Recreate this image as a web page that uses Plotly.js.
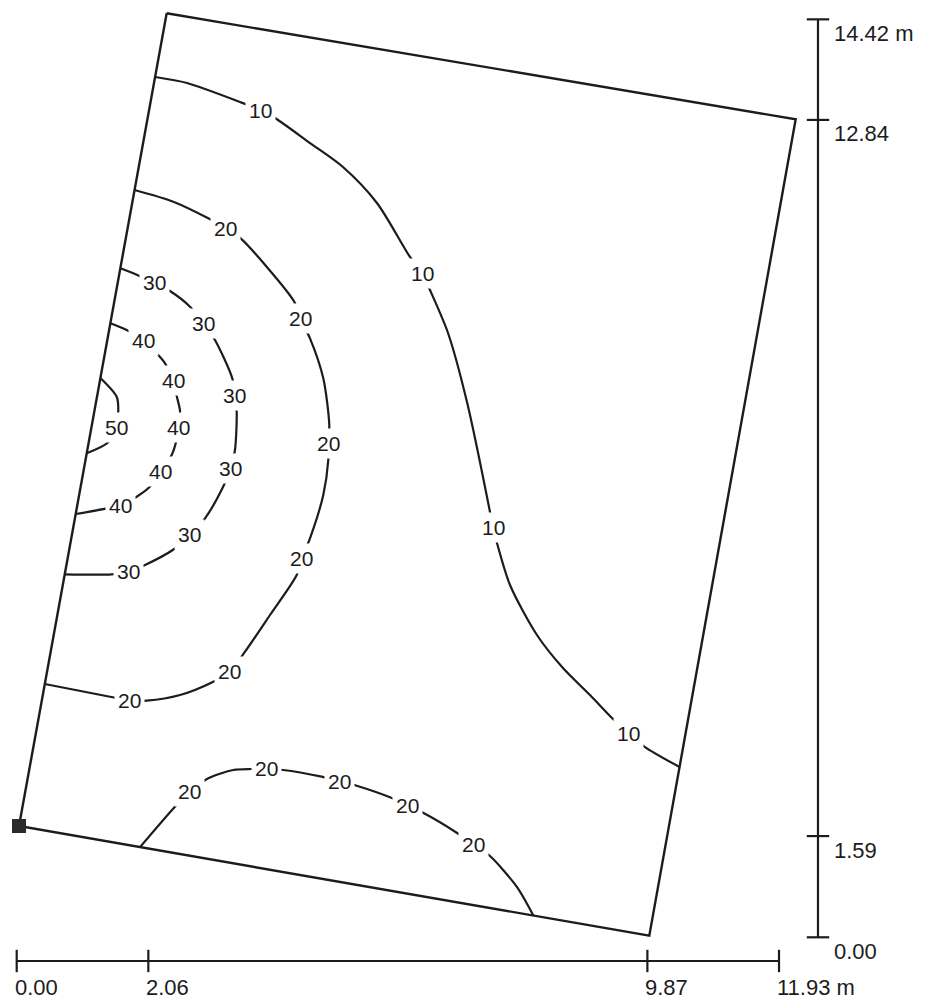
<!DOCTYPE html>
<html>
<head>
<meta charset="utf-8">
<script src="https://cdn.plot.ly/plotly-3.0.1.min.js"></script>
<style>html,body{margin:0;padding:0;background:#fff;}#chart{width:927px;height:1004px;}</style>
</head>
<body>
<div id="chart"></div>
<script>
// Room outline (metres, as drawn)
const roomX = [2.347, 12.191, 9.900, 0.036, 2.347];
const roomY = [14.515, 12.850, 0.025, 1.748, 14.515];

// Isolines (metres)
const c10x = [2.166, 2.665, 3.495, 3.808, 4.042, 4.590, 5.106, 5.638, 6.155, 6.343, 6.468, 6.750, 7.047, 7.407, 7.454, 7.516, 7.720, 8.142, 8.549, 8.972, 9.316, 9.567, 9.833, 10.374];
const c10y = [13.514, 13.420, 13.121, 12.996, 12.870, 12.477, 12.100, 11.535, 10.687, 10.435, 10.168, 9.493, 8.409, 6.681, 6.430, 6.194, 5.534, 4.749, 4.230, 3.806, 3.445, 3.209, 2.989, 2.675];

const c20x = [1.845, 2.451, 2.998, 3.271, 3.505, 3.912, 4.344, 4.434, 4.590, 4.798, 4.892, 4.876, 4.876, 4.798, 4.590, 4.460, 4.382, 3.964, 3.573, 3.338, 3.077, 2.556, 2.034, 1.773, 1.460, 0.440];
const c20y = [11.739, 11.555, 11.294, 11.137, 10.980, 10.534, 9.984, 9.724, 9.409, 8.781, 8.048, 7.760, 7.498, 6.948, 6.268, 5.954, 5.691, 5.063, 4.486, 4.172, 4.015, 3.806, 3.717, 3.717, 3.779, 3.979];

const c30x = [1.623, 1.887, 2.149, 2.399, 2.712, 2.920, 3.103, 3.374, 3.416, 3.443, 3.416, 3.349, 3.244, 2.947, 2.701, 2.441, 2.008, 1.757, 1.487, 0.751];
const c30y = [10.509, 10.404, 10.283, 10.152, 9.906, 9.645, 9.383, 8.781, 8.519, 8.256, 7.655, 7.367, 7.105, 6.582, 6.320, 6.084, 5.848, 5.743, 5.702, 5.702];

const c40x = [1.466, 1.721, 1.981, 2.216, 2.321, 2.451, 2.504, 2.556, 2.529, 2.493, 2.426, 2.258, 2.075, 1.878, 1.632, 1.408, 0.923];
const c40y = [9.645, 9.540, 9.383, 9.147, 9.017, 8.754, 8.503, 8.267, 8.005, 7.776, 7.576, 7.314, 7.069, 6.921, 6.791, 6.739, 6.649];

const c50x = [1.310, 1.565, 1.590, 1.554, 1.433, 1.095];
const c50y = [8.786, 8.492, 8.283, 8.016, 7.776, 7.603];

const c20bx = [1.930, 2.477, 2.712, 2.998, 3.390, 3.678, 3.912, 4.172, 4.773, 5.049, 5.321, 5.842, 6.113, 6.374, 6.886, 7.156, 7.407, 7.825, 8.085];
const c20by = [1.417, 2.052, 2.287, 2.498, 2.628, 2.644, 2.644, 2.628, 2.523, 2.455, 2.381, 2.199, 2.067, 1.948, 1.643, 1.455, 1.277, 0.795, 0.342];

// Isoline labels
const labelX = [3.808, 6.343, 7.454, 9.567,
  3.271, 4.434, 4.876, 4.460, 3.338, 1.773,
  2.149, 2.920, 3.416, 3.349, 2.701, 1.757,
  1.981, 2.451, 2.529, 2.258, 1.632,
  1.554,
  2.712, 3.912, 5.049, 6.113, 7.156];
const labelY = [12.996, 10.435, 6.430, 3.209,
  11.137, 9.724, 7.760, 5.954, 4.172, 3.717,
  10.283, 9.645, 8.519, 7.367, 6.320, 5.743,
  9.383, 8.754, 8.005, 7.314, 6.791,
  8.016,
  2.287, 2.644, 2.455, 2.067, 1.455];
const labelText = ['10','10','10','10',
  '20','20','20','20','20','20',
  '30','30','30','30','30','30',
  '40','40','40','40','40',
  '50',
  '20','20','20','20','20'];

// Scale bars
const hTicks = [0, 2.06, 9.87, 11.93];
const hTickText = ['0.00', '2.06', '9.87', '11.93 m'];
const vTicks = [0, 1.59, 12.84, 14.42];
const vTickText = ['0.00', '1.59', '12.84', '14.42 m'];

const HBAR_Y = -0.372;
const VBAR_X = 12.54;
const INK = '#1c1c1c';
const FONT = 'Liberation Sans, Arial, sans-serif';

const traces = [];
function isoline(x, y) {
  traces.push({x: x, y: y, type: 'scatter', mode: 'lines',
    line: {color: INK, width: 2.2, shape: 'spline', smoothing: 0.8},
    hoverinfo: 'skip'});
}
isoline(c10x, c10y);
isoline(c20x, c20y);
isoline(c30x, c30y);
isoline(c40x, c40y);
isoline(c50x, c50y);
isoline(c20bx, c20by);

traces.push({x: roomX, y: roomY, type: 'scatter', mode: 'lines',
  line: {color: INK, width: 2.4}, hoverinfo: 'skip'});
// corner marker
traces.push({x: [roomX[3]], y: [roomY[3]], type: 'scatter', mode: 'markers',
  marker: {symbol: 'square', size: 14, color: '#2a2a2a'}, cliponaxis: false, hoverinfo: 'skip'});

// horizontal scale bar
traces.push({x: [hTicks[0], hTicks[hTicks.length - 1]], y: [HBAR_Y, HBAR_Y], type: 'scatter', mode: 'lines',
  line: {color: INK, width: 2.2}, hoverinfo: 'skip'});
traces.push({x: hTicks, y: hTicks.map(() => HBAR_Y), type: 'scatter', mode: 'markers',
  marker: {symbol: 'line-ns', size: 16, line: {color: INK, width: 2.2}}, hoverinfo: 'skip'});
// vertical scale bar
traces.push({x: [VBAR_X, VBAR_X], y: [vTicks[0], vTicks[vTicks.length - 1]], type: 'scatter', mode: 'lines',
  line: {color: INK, width: 2.2}, hoverinfo: 'skip'});
traces.push({x: vTicks.map(() => VBAR_X), y: vTicks, type: 'scatter', mode: 'markers',
  marker: {symbol: 'line-ew', size: 16, line: {color: INK, width: 2.2}}, hoverinfo: 'skip'});

const annotations = [];
for (let i = 0; i < labelText.length; i++) {
  annotations.push({x: labelX[i], y: labelY[i], text: labelText[i], showarrow: false,
    xanchor: 'center', yanchor: 'middle', bgcolor: '#ffffff', borderpad: 3,
    font: {family: FONT, size: 21, color: INK}});
}
for (let i = 0; i < hTicks.length; i++) {
  annotations.push({x: hTicks[i], y: HBAR_Y, text: hTickText[i], showarrow: false,
    xanchor: 'left', yanchor: 'middle', xshift: -3, yshift: -27, borderpad: 0,
    font: {family: FONT, size: 22, color: INK}});
}
for (let i = 0; i < vTicks.length; i++) {
  annotations.push({x: VBAR_X, y: vTicks[i], text: vTickText[i], showarrow: false,
    xanchor: 'left', yanchor: 'middle', xshift: 15, yshift: -14, borderpad: 0,
    font: {family: FONT, size: 22, color: INK}});
}

const layout = {
  width: 927, height: 1004,
  margin: {l: 0, r: 0, t: 0, b: 0, pad: 0},
  paper_bgcolor: '#ffffff', plot_bgcolor: '#ffffff',
  showlegend: false,
  xaxis: {range: [-0.2613, 14.246], visible: false, fixedrange: true},
  yaxis: {range: [-1.0478, 14.724], visible: false, fixedrange: true},
  annotations: annotations
};

Plotly.newPlot('chart', traces, layout, {staticPlot: true, displayModeBar: false});
</script>
</body>
</html>
